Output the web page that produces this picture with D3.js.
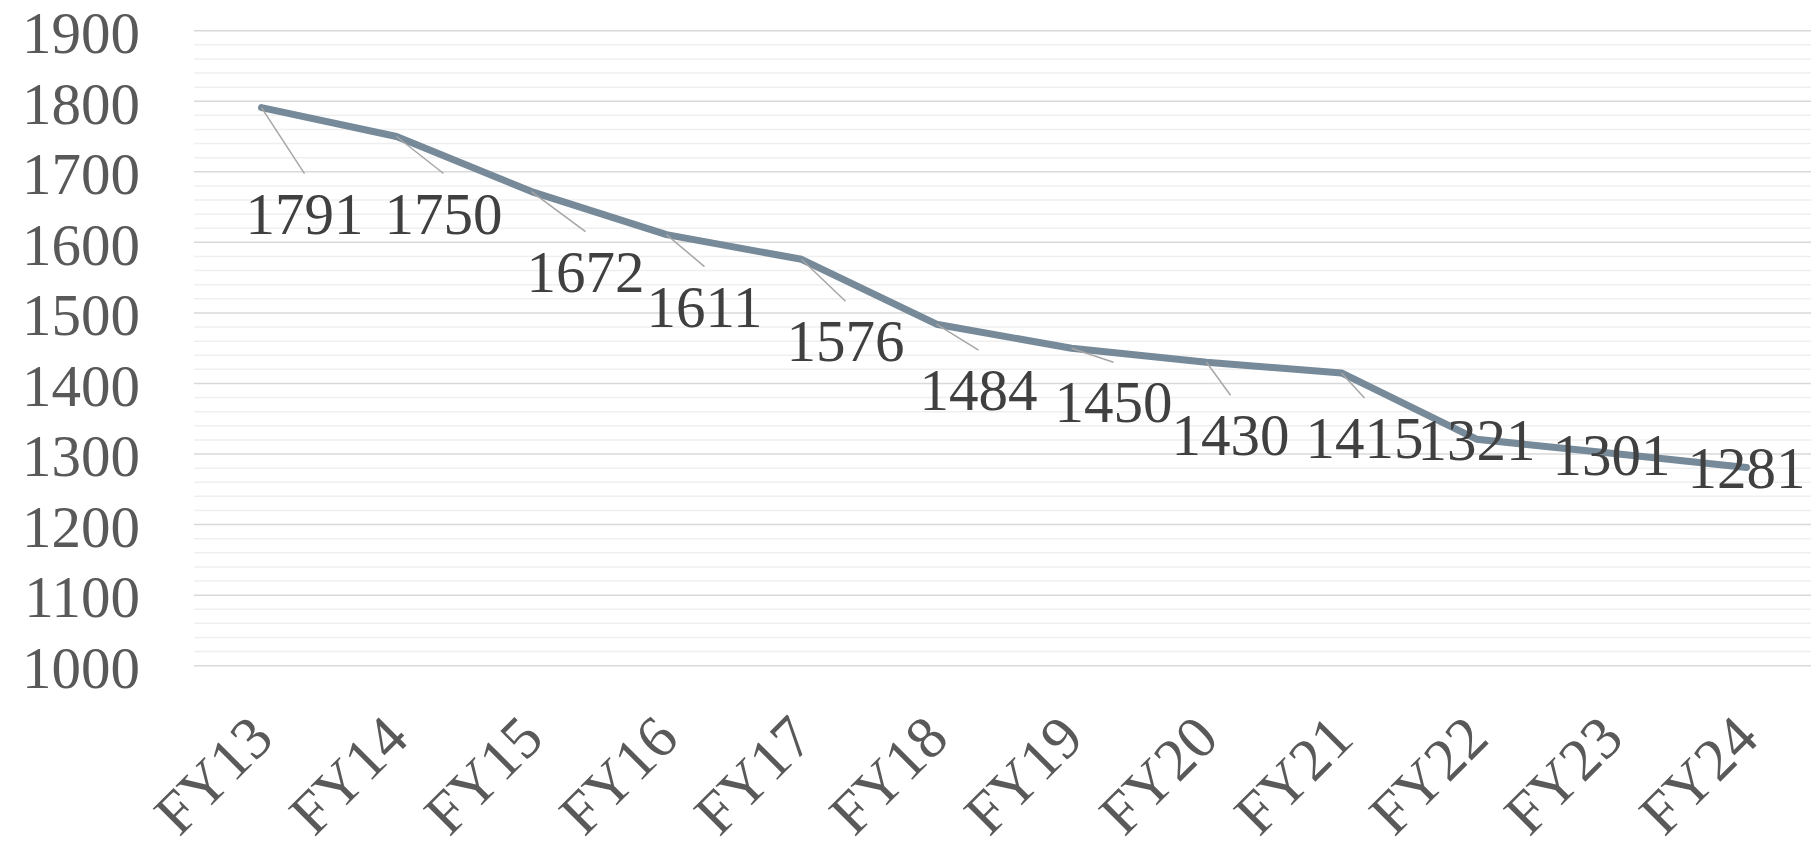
<!DOCTYPE html>
<html>
<head>
<meta charset="utf-8">
<script src="https://cdn.jsdelivr.net/npm/d3@7"></script>
<style>
  html, body { margin: 0; padding: 0; background: #ffffff; }
  svg { display: block; }
  text { font-family: "Liberation Serif", "Times New Roman", serif; }
</style>
</head>
<body>
<script>
// Fiscal years on the category axis
const categories = ["FY13","FY14","FY15","FY16","FY17","FY18","FY19","FY20","FY21","FY22","FY23","FY24"];
// Headcount per fiscal year
const values = [1791, 1750, 1672, 1611, 1576, 1484, 1450, 1430, 1415, 1321, 1301, 1281];
// Value-axis range and tick steps
const yDomain = [1000, 1900];
const majorStep = 100;
const minorStep = 20;

// Label placement: offset of each label (centre x, baseline y) from its point, and whether it has a leader line
const labelDx = [43, 47, 54, 38, 44, 42, 42, 24, 23, 0, 0, 0];
const labelDy = [126, 97, 100, 92, 102, 86, 74, 93, 85, 21, 22, 21];
const hasLeader = [true, true, true, true, true, true, true, true, true, false, false, false];

const W = 1811, H = 841;
const plot = { left: 194, right: 1814, top: 30.7, bottom: 665.7 };

const svg = d3.select("body").append("svg")
  .attr("width", W).attr("height", H);

svg.append("rect").attr("width", W).attr("height", H).attr("fill", "#ffffff");

const x = d3.scaleBand().domain(categories).range([plot.left, plot.right]).padding(0);
const cx = d => x(d) + x.bandwidth() / 2;
const y = d3.scaleLinear().domain(yDomain).range([plot.bottom, plot.top]);

// Minor gridlines
const minorVals = d3.range(yDomain[0], yDomain[1] + 1, minorStep).filter(v => v % majorStep !== 0);
svg.append("g").selectAll("line").data(minorVals).join("line")
  .attr("x1", plot.left).attr("x2", W)
  .attr("y1", d => y(d)).attr("y2", d => y(d))
  .attr("stroke", "#efefef").attr("stroke-width", 1.5);

// Major gridlines
const majorVals = d3.range(yDomain[0], yDomain[1] + 1, majorStep);
svg.append("g").selectAll("line").data(majorVals).join("line")
  .attr("x1", plot.left).attr("x2", W)
  .attr("y1", d => y(d)).attr("y2", d => y(d))
  .attr("stroke", "#d9d9d9").attr("stroke-width", 1.5);

// Value axis
const yAxis = d3.axisLeft(y).tickValues(majorVals).tickSize(0).tickPadding(54).tickFormat(d3.format("d"));
const gy = svg.append("g").attr("transform", `translate(${plot.left},0)`).call(yAxis);
gy.select(".domain").remove();
gy.selectAll("text")
  .attr("font-family", "Liberation Serif, serif")
  .attr("font-size", 59).attr("fill", "#595959").attr("dy", "0.37em");

// Category axis with rotated labels
const xAxis = d3.axisBottom(x).tickSize(0);
const gx = svg.append("g").attr("transform", `translate(0,${plot.bottom})`).call(xAxis);
gx.select(".domain").remove();
gx.selectAll("text")
  .attr("font-family", "Liberation Serif, serif")
  .attr("font-size", 60).attr("fill", "#595959")
  .attr("y", 0).attr("dy", "0.34em")
  .attr("text-anchor", "end")
  .attr("transform", "translate(0,61) rotate(-45)");

// Series line
const pts = categories.map((c, i) => ({ c, v: values[i], i }));
const line = d3.line().x(d => cx(d.c)).y(d => y(d.v));
svg.append("path").datum(pts)
  .attr("d", line)
  .attr("fill", "none")
  .attr("stroke", "#778a99")
  .attr("stroke-width", 7)
  .attr("stroke-linejoin", "round")
  .attr("stroke-linecap", "round");

// Leader lines from points to their labels
svg.append("g").selectAll("line").data(pts.filter(d => hasLeader[d.i])).join("line")
  .attr("x1", d => cx(d.c)).attr("y1", d => y(d.v))
  .attr("x2", d => cx(d.c) + labelDx[d.i]).attr("y2", d => y(d.v) + labelDy[d.i] - 60)
  .attr("stroke", "#a6a6a6").attr("stroke-width", 1.5);

// Data labels
svg.append("g").selectAll("text").data(pts).join("text")
  .attr("x", d => cx(d.c) + labelDx[d.i])
  .attr("y", d => y(d.v) + labelDy[d.i])
  .attr("text-anchor", "middle")
  .attr("font-size", 59)
  .attr("fill", "#404040")
  .text(d => d.v);
</script>
</body>
</html>
